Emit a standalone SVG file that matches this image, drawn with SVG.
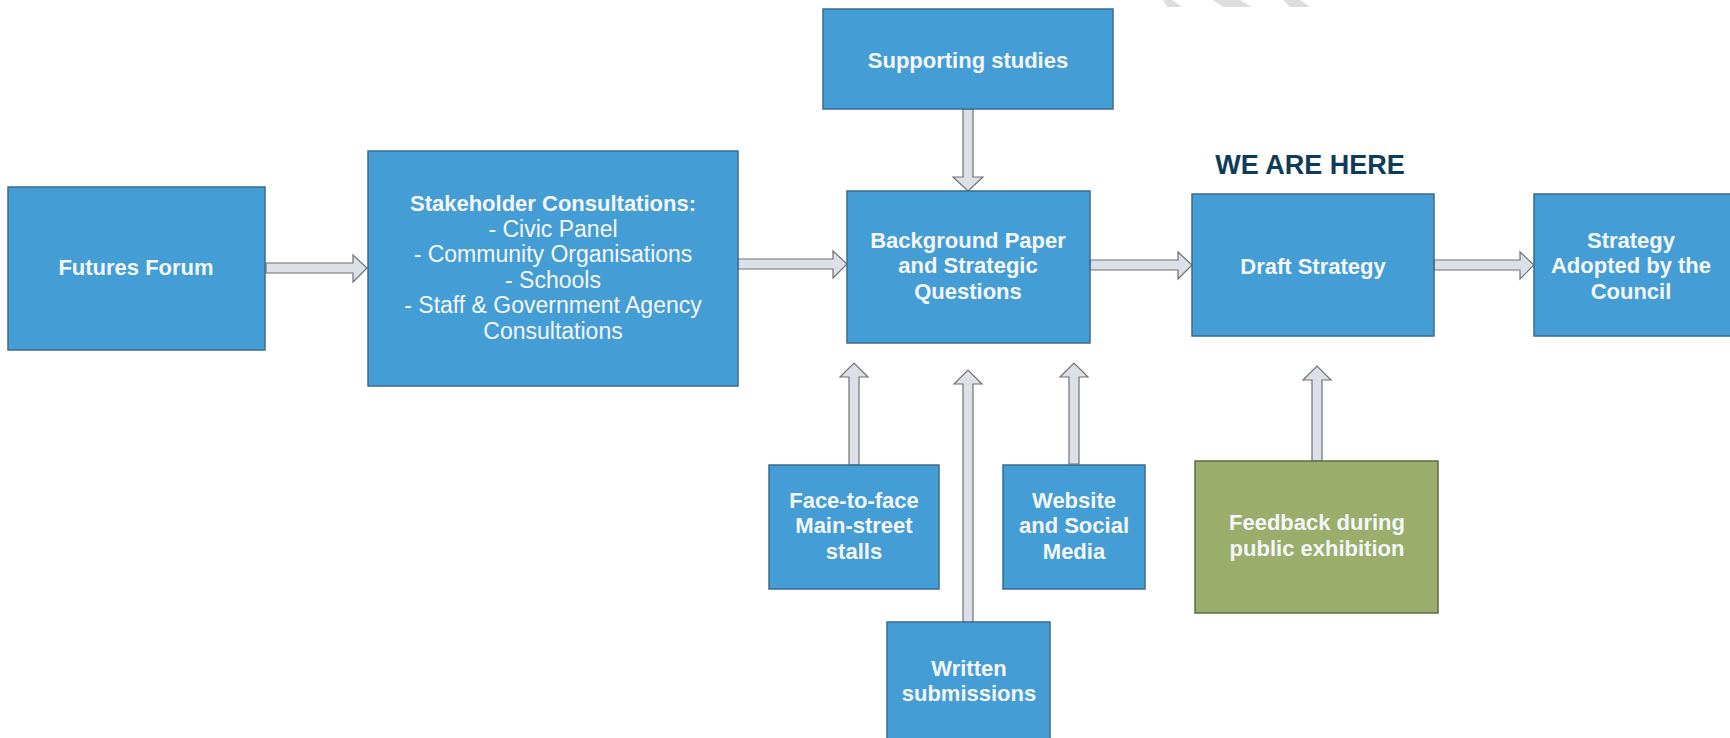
<svg xmlns="http://www.w3.org/2000/svg" width="1730" height="738" viewBox="0 0 1730 738">
<style>
.box{fill:#459dd5;stroke:#3a6c8c;stroke-width:1.5}
.gbox{fill:#9aad6b;stroke:#5e6d44;stroke-width:1.5}
.arr{fill:#dce1e8;stroke:#6e7176;stroke-width:1.2;stroke-linejoin:miter}
.t{font-family:"Liberation Sans",Arial,sans-serif;fill:#f4f7fa;text-anchor:middle;font-size:22px;font-weight:bold}
.r{font-weight:normal;font-size:23px}
.here{font-family:"Liberation Sans",Arial,sans-serif;fill:#0f3b5a;font-size:27px;font-weight:bold;text-anchor:middle}
.wm{fill:#dedede}
</style>
<rect width="1730" height="738" fill="#ffffff"/>
<g id="watermark">
<polygon class="wm" points="1163,0 1172,0 1182,7 1167,7"/>
<polygon class="wm" points="1213,0 1240,0 1252,7 1223,7"/>
<polygon class="wm" points="1283,0 1300,0 1310,7 1290,7"/>
</g>
<g id="connectors">
<polygon class="arr" points="266,263 353,263 353,255 367,268 353,282 353,273 266,273"/>
<polygon class="arr" points="738,259 833,259 833,251 847,264 833,278 833,269 738,269"/>
<polygon class="arr" points="1090,260 1178,260 1178,252 1192,265 1178,279 1178,270 1090,270"/>
<polygon class="arr" points="1434,260 1520,260 1520,252 1534,265 1520,279 1520,270 1434,270"/>
<polygon class="arr" points="963,109 973,109 973,177 983,177 968,191 953,177 963,177"/>
<polygon class="arr" points="849,465 849,377 840,377 854,363 868,377 859,377 859,465"/>
<polygon class="arr" points="963,622 963,384 954,384 968,370 982,384 973,384 973,622"/>
<polygon class="arr" points="1069,464 1069,377 1060,377 1074,363 1088,377 1079,377 1079,464"/>
<polygon class="arr" points="1312,461 1312,380 1303,380 1317,366 1331,380 1322,380 1322,461"/>
</g>
<g id="futures-forum">
<rect class="box" x="8" y="187" width="257" height="163"/>
<text class="t" x="136" y="275">Futures Forum</text>
</g>
<g id="stakeholder">
<rect class="box" x="368" y="151" width="370" height="235"/>
<text class="t" x="553" y="211">Stakeholder Consultations:</text>
<text class="t r" x="553" y="237">- Civic Panel</text>
<text class="t r" x="553" y="262">- Community Organisations</text>
<text class="t r" x="553" y="288">- Schools</text>
<text class="t r" x="553" y="313">- Staff &amp; Government Agency</text>
<text class="t r" x="553" y="339">Consultations</text>
</g>
<g id="supporting-studies">
<rect class="box" x="823" y="9" width="290" height="100"/>
<text class="t" x="968" y="68">Supporting studies</text>
</g>
<g id="background-paper">
<rect class="box" x="847" y="191" width="243" height="152"/>
<text class="t" x="968" y="248">Background Paper</text>
<text class="t" x="968" y="273">and Strategic</text>
<text class="t" x="968" y="299">Questions</text>
</g>
<g id="we-are-here">
<text class="here" x="1310" y="174">WE ARE HERE</text>
</g>
<g id="draft-strategy">
<rect class="box" x="1192" y="194" width="242" height="142"/>
<text class="t" x="1313" y="274">Draft Strategy</text>
</g>
<g id="strategy-adopted">
<rect class="box" x="1534" y="194" width="200" height="142"/>
<text class="t" x="1631" y="248">Strategy</text>
<text class="t" x="1631" y="273">Adopted by the</text>
<text class="t" x="1631" y="299">Council</text>
</g>
<g id="face-to-face">
<rect class="box" x="769" y="465" width="170" height="124"/>
<text class="t" x="854" y="508">Face-to-face</text>
<text class="t" x="854" y="533">Main-street</text>
<text class="t" x="854" y="559">stalls</text>
</g>
<g id="website">
<rect class="box" x="1003" y="465" width="142" height="124"/>
<text class="t" x="1074" y="508">Website</text>
<text class="t" x="1074" y="533">and Social</text>
<text class="t" x="1074" y="559">Media</text>
</g>
<g id="written">
<rect class="box" x="887" y="622" width="163" height="120"/>
<text class="t" x="969" y="676">Written</text>
<text class="t" x="969" y="701">submissions</text>
</g>
<g id="feedback">
<rect class="gbox" x="1195" y="461" width="243" height="152"/>
<text class="t" x="1317" y="530">Feedback during</text>
<text class="t" x="1317" y="556">public exhibition</text>
</g>
</svg>
